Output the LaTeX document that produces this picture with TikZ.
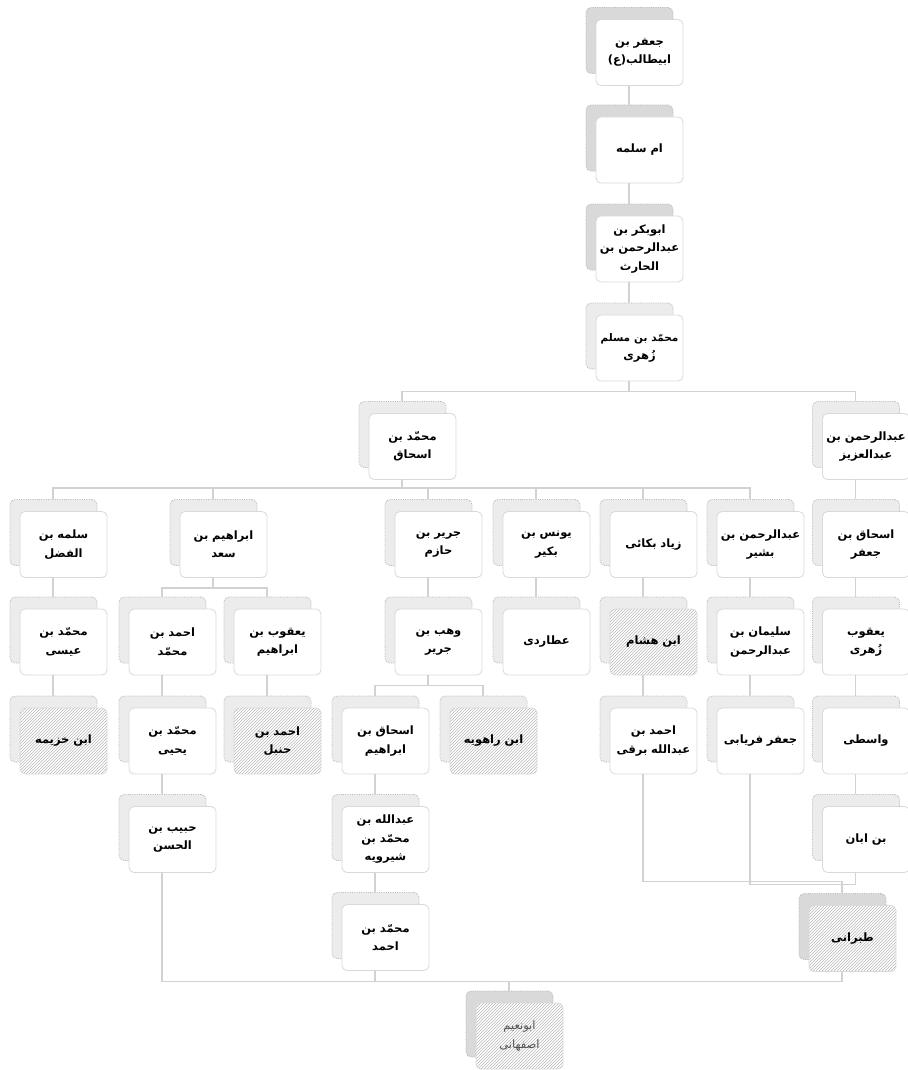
\documentclass[tikz,border=0pt]{standalone}
\usepackage{fontspec}
\newfontfamily\arabicfont[Script=Arabic]{DejaVu Sans}
\TeXXeTstate=1
\usetikzlibrary{shadows,patterns}

\newcommand{\artext}[1]{\beginR #1\endR}

\begin{document}
\begin{tikzpicture}[
    x=1pt, y=-1pt,
    card/.style={draw=gray!30, fill=white, rounded corners=5pt, line width=0.8pt,
        minimum width=87pt, minimum height=66pt, inner sep=2pt, text width=83pt, align=center,
        font=\arabicfont\bfseries\fontsize{11.5}{18.5}\selectfont,
        general shadow={shadow xshift=-10pt, shadow yshift=12pt, fill=#1, draw=gray!55, densely dotted}},
    card/.default=gray!15,
    hatch/.style={preaction={fill=white}, pattern=north east lines, pattern color=gray!55},
    link/.style={draw=gray!35, line width=1.6pt},
    tree/.style={to path={([xshift=-10.5pt]\tikztostart.south) -- ++(0,#1)
        -| ([xshift=-10.5pt,yshift=12pt]\tikztotarget.north)}},
    tree/.default=8
]
    \useasboundingbox (0,0) rectangle (907,1070);

    % chain from the top down to Zuhri
    \node[card=gray!30] (jafar) at (639.5,52.5) {\artext{جعفر بن}\\\artext{ابیطالب(ع)}};
    \node[card=gray!30] (ummsalama) at (639.5,150) {\artext{ام سلمه}};
    \node[card=gray!30] (abubakr) at (639.5,249) {\artext{ابوبکر بن}\\\artext{عبدالرحمن بن}\\\artext{الحارث}};
    \node[card] (zuhri) at (639.5,348) {{\fontsize{10.5}{18.5}\selectfont\artext{محمّد بن مسلم}}\\\artext{زُهری}};

    % second row
    \node[card] (ibnishaq) at (412.5,446.5) {\artext{محمّد بن}\\\artext{اسحاق}};
    \node[card] (abdaziz) at (866,446.5) {\artext{عبدالرحمن بن}\\\artext{عبدالعزیز}};

    % third row
    \node[card] (sulma) at (63.5,544.5) {\artext{سلمه بن}\\\artext{الفضل}};
    \node[card] (ibrahim) at (223.5,544.5) {\artext{ابراهیم بن}\\\artext{سعد}};
    \node[card] (jarir) at (438.5,544.5) {\artext{جریر بن}\\\artext{حازم}};
    \node[card] (yunus) at (546.5,544.5) {\artext{یونس بن}\\\artext{بکیر}};
    \node[card] (ziyad) at (653.5,544.5) {\artext{زیاد بکائی}};
    \node[card] (abdbashir) at (760.5,544.5) {\artext{عبدالرحمن بن}\\\artext{بشیر}};
    \node[card] (ishaqjafar) at (866,544.5) {\artext{اسحاق بن}\\\artext{جعفر}};

    % fourth row
    \node[card] (ibnisa) at (63.5,642) {\artext{محمّد بن}\\\artext{عیسی}};
    \node[card] (ahmadmuh) at (172.5,642) {\artext{احمد بن}\\\artext{محمّد}};
    \node[card] (yaqubibr) at (277.5,642) {\artext{یعقوب بن}\\\artext{ابراهیم}};
    \node[card] (wahb) at (438.5,642) {\artext{وهب بن}\\\artext{جریر}};
    \node[card] (ataridi) at (546.5,642) {\artext{عطاردی}};
    \node[card, hatch] (ibnhisham) at (653.5,642) {\artext{ابن هشام}};
    \node[card] (sulayman) at (760.5,642) {\artext{سلیمان بن}\\\artext{عبدالرحمن}};
    \node[card] (yaquzuhri) at (866,642) {\artext{یعقوب}\\\artext{زُهری}};

    % fifth row
    \node[card, hatch] (ibnkhuzayma) at (63.5,741) {\artext{ابن خزیمه}};
    \node[card] (muhyahya) at (172.5,741) {\artext{محمّد بن}\\\artext{یحیی}};
    \node[card, hatch] (ahmadhanbal) at (277.5,741) {\artext{احمد بن}\\\artext{حنبل}};
    \node[card] (ishaqibr) at (385.5,741) {\artext{اسحاق بن}\\\artext{ابراهیم}};
    \node[card, hatch] (ibnrahawayh) at (493.5,741) {\artext{ابن راهویه}};
    \node[card] (ahmadbarqi) at (653.5,741) {\artext{احمد بن}\\\artext{عبدالله برقی}};
    \node[card] (firyabi) at (760.5,741) {\artext{جعفر فریابی}};
    \node[card] (wasiti) at (866,741) {\artext{واسطی}};

    % lower rows
    \node[card] (habib) at (172.5,839.5) {\artext{حبیب بن}\\\artext{الحسن}};
    \node[card] (abdallah) at (385.5,839.5) {\artext{عبدالله بن}\\\artext{محمّد بن}\\\artext{شیرویه}};
    \node[card] (ibnaban) at (866,839.5) {\artext{بن ابان}};
    \node[card] (muhahmad) at (385.5,937.5) {\artext{محمّد بن}\\\artext{احمد}};
    \node[card=gray!30, hatch] (tabarani) at (852.5,938.5) {\artext{طبرانی}};
    \node[card=gray!30, hatch, font=\arabicfont\fontsize{11.5}{18.5}\selectfont, text=gray!65!black]
        (abunuaym) at (519.5,1036) {\artext{ابونعیم}\\\artext{اصفهانی}};

    \path[link]
        (jafar) edge[tree] (ummsalama)
        (ummsalama) edge[tree] (abubakr)
        (abubakr) edge[tree] (zuhri)
        (zuhri) edge[tree=10] (ibnishaq)
        (zuhri) edge[tree=10] (abdaziz)
        (ibnishaq) edge[tree] (sulma)
        (ibnishaq) edge[tree] (ibrahim)
        (ibnishaq) edge[tree] (jarir)
        (ibnishaq) edge[tree] (yunus)
        (ibnishaq) edge[tree] (ziyad)
        (ibnishaq) edge[tree] (abdbashir)
        (abdaziz) edge[tree] (ishaqjafar)
        (sulma) edge[tree] (ibnisa)
        (ibrahim) edge[tree=10] (ahmadmuh)
        (ibrahim) edge[tree=10] (yaqubibr)
        (jarir) edge[tree] (wahb)
        (yunus) edge[tree] (ataridi)
        (ziyad) edge[tree] (ibnhisham)
        (abdbashir) edge[tree] (sulayman)
        (ishaqjafar) edge[tree] (yaquzuhri)
        (ibnisa) edge[tree] (ibnkhuzayma)
        (ahmadmuh) edge[tree] (muhyahya)
        (yaqubibr) edge[tree] (ahmadhanbal)
        (wahb) edge[tree=10] (ishaqibr)
        (wahb) edge[tree=10] (ibnrahawayh)
        (ibnhisham) edge[tree] (ahmadbarqi)
        (sulayman) edge[tree] (firyabi)
        (yaquzuhri) edge[tree] (wasiti)
        (muhyahya) edge[tree] (habib)
        (ishaqibr) edge[tree] (abdallah)
        (wasiti) edge[tree] (ibnaban)
        (abdallah) edge[tree] (muhahmad)
        (ahmadbarqi) edge[tree=107] (tabarani)
        (firyabi) edge[tree=110] (tabarani)
        (ibnaban) edge[tree=11.5] (tabarani)
        (habib) edge[tree=108.5] (abunuaym)
        (muhahmad) edge[tree=10.5] (abunuaym)
        (tabarani) edge[tree=9.5] (abunuaym);
\end{tikzpicture}
\end{document}
